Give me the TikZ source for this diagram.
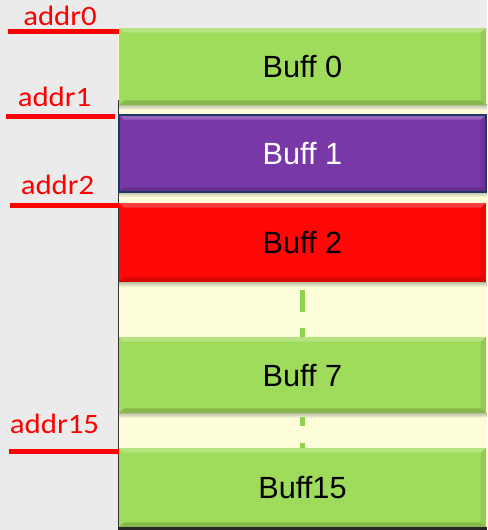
\documentclass[tikz,border=0pt]{standalone}
\usepackage{fontspec}
\setmainfont{Liberation Sans}
\newfontfamily\labelfont[FakeStretch=1.1]{Carlito}
\usetikzlibrary{calc}

\definecolor{pagegray}{HTML}{EBEBEB}
\definecolor{slotyellow}{HTML}{FDFDDA}
\definecolor{buffgreen}{HTML}{A0DC5C}
\definecolor{buffpurple}{HTML}{7838A8}
\definecolor{buffred}{HTML}{FF0808}
\definecolor{navyedge}{HTML}{1F3864}
\definecolor{dotgreen}{HTML}{8FD24E}

\tikzset{
  buff/.style={rectangle, anchor=north west, inner sep=0pt, outer sep=0pt,
    minimum width=275.25pt, font=\fontsize{23}{26}\selectfont,
    text depth=0pt, text height=16.5pt,
    path picture={
      \fill[white,opacity=0.22] (path picture bounding box.north west)
        -- (path picture bounding box.north east)
        -- ([shift={(-4pt,-3.5pt)}]path picture bounding box.north east)
        -- ([shift={(4pt,-3.5pt)}]path picture bounding box.north west) -- cycle;
      \fill[black,opacity=0.16] (path picture bounding box.south west)
        -- (path picture bounding box.south east)
        -- ([shift={(-4pt,3.5pt)}]path picture bounding box.south east)
        -- ([shift={(4pt,3.5pt)}]path picture bounding box.south west) -- cycle;
      \fill[black,opacity=0.08] (path picture bounding box.north east)
        -- (path picture bounding box.south east)
        -- ([shift={(-4pt,3.5pt)}]path picture bounding box.south east)
        -- ([shift={(-4pt,-3.5pt)}]path picture bounding box.north east) -- cycle;
    }},
  addrlabel/.style={anchor=base, inner sep=0pt, text=red,
    font=\labelfont\fontsize{21}{24}\selectfont},
  addrline/.style={red, line width=3.6pt},
  gapdash/.style={dotgreen, line width=3.5pt},
  gapshade/.style={top color=black!25!slotyellow, bottom color=slotyellow}
}

\begin{document}
\begin{tikzpicture}[x=0.75pt,y=-0.75pt]
\useasboundingbox (0,0) rectangle (487,530);
\fill[pagegray] (0,0) rectangle (487,530);

% memory column backing and its left edge
\fill[slotyellow] (118,28) rectangle (487,530);
\shade[gapshade] (119,105) rectangle (487,110);
\shade[gapshade] (119,192) rectangle (487,197);
\shade[gapshade] (119,282) rectangle (487,287);
\shade[gapshade] (119,413) rectangle (487,418);
\fill[black!80] (117.5,100) rectangle (119,530);
\fill[black!85] (118,527) rectangle (487,530);

% buffers
\node[buff, fill=buffgreen, minimum height=57.75pt] (b0) at (119,28) {Buff 0};
\node[buff, fill=buffpurple, draw=navyedge, line width=1.2pt, text=white,
      minimum height=57.75pt] (b1) at (119,115) {Buff 1};
\node[buff, fill=buffred, minimum height=59.25pt] (b2) at (119,203) {Buff 2};
\node[buff, fill=buffgreen, minimum height=57pt] (b7) at (119,337) {Buff 7};
\node[buff, fill=buffgreen, minimum height=59.25pt] (b15) at (119,448) {Buff15};

% elided buffers
\draw[gapdash, dash pattern=on 16.5pt off 12pt]
  ([yshift=-6pt]b2.south) -- (b7.north);
\draw[gapdash, dash pattern=on 6.75pt off 12.75pt]
  ([yshift=-3pt]b7.south) -- (b15.north);

% address markers
\node[addrlabel] (a0) at (60,26) {addr0};
\node[addrlabel] (a1) at (54.5,107) {addr1};
\node[addrlabel] (a2) at (57.5,195) {addr2};
\node[addrlabel] (a15) at (54.5,433) {addr15};

\coordinate (l0) at (8,31.5);
\coordinate (l1) at (6,116.5);
\coordinate (l2) at (10,205.5);
\coordinate (l15) at (9,451.5);
\draw[addrline] (l0) -- (l0 -| b0.west);
\draw[addrline] (l1) -- ([xshift=-3pt]l1 -| b1.west);
\draw[addrline] (l2) -- (l2 -| b2.west);
\draw[addrline] (l15) -- (l15 -| b15.west);
\end{tikzpicture}
\end{document}
